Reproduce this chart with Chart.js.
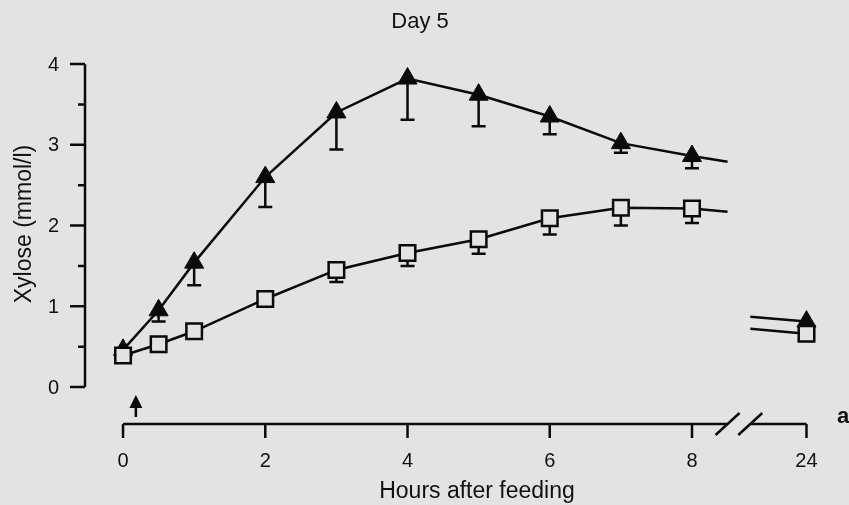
<!DOCTYPE html>
<html>
<head>
<meta charset="utf-8">
<script src="https://cdn.jsdelivr.net/npm/chart.js@4.4.1/dist/chart.umd.min.js"></script>
<style>
  html, body { margin: 0; padding: 0; background: #e3e3e3; }
  #wrap { width: 849px; height: 505px; }
</style>
</head>
<body>
<div id="wrap"><canvas id="xylose" width="849" height="505"></canvas></div>
<script>
// ── Data ──────────────────────────────────────────
const hours = [0, 0.5, 1, 2, 3, 4, 5, 6, 7, 8, 24];
const xyloseTri = [0.46, 0.95, 1.54, 2.60, 3.40, 3.82, 3.62, 3.35, 3.02, 2.86, 0.81];
const semTri = [0, 0.14, 0.28, 0.37, 0.46, 0.51, 0.39, 0.22, 0.12, 0.15, 0];
const xyloseSq = [0.39, 0.53, 0.69, 1.09, 1.45, 1.66, 1.83, 2.09, 2.22, 2.21, 0.66];
const semSq = [0, 0, 0, 0.02, 0.15, 0.16, 0.18, 0.20, 0.22, 0.18, 0];
// where the lines stop / resume around the axis break (axis units) and their values there
const breakEnds = [8.5, 8.82];
const stubTri = [2.79, 0.87];
const stubSq = [2.17, 0.72];
const xTickHours = [0, 2, 4, 6, 8, 24];
const yTicks = [0, 1, 2, 3, 4];
const feedingAt = 0.18;

const AXIS_24 = 9.61;          // 24 h sits just past the break
const FONT = "'Liberation Sans', Arial, sans-serif";
const BG = '#e3e3e3';
const INK = '#0a0a0a';

const axisPos = (h) => (h <= 9 ? h : AXIS_24);

function buildSeries(values, sem, stub) {
  const pts = [];
  hours.forEach((h, i) => {
    if (h === 24) {
      pts.push({ x: breakEnds[0], y: stub[0], stub: true });
      pts.push({ x: (breakEnds[0] + breakEnds[1]) / 2, y: null });
      pts.push({ x: breakEnds[1], y: stub[1], stub: true });
    }
    pts.push({ x: axisPos(h), y: values[i], sem: sem[i] });
  });
  return pts;
}

// ── Error bars (one-sided, downward) ──────────────
const errorBars = {
  id: 'errorBars',
  beforeDatasetsDraw(chart) {
    const { ctx, scales: { x, y } } = chart;
    ctx.save();
    ctx.strokeStyle = INK;
    ctx.lineWidth = 2.5;
    chart.data.datasets.forEach((ds) => {
      ds.data.forEach((p) => {
        if (!p.sem) return;
        const px = x.getPixelForValue(p.x);
        const top = y.getPixelForValue(p.y);
        const bot = y.getPixelForValue(p.y - p.sem);
        ctx.beginPath();
        ctx.moveTo(px, top);
        ctx.lineTo(px, bot);
        ctx.moveTo(px - 7, bot);
        ctx.lineTo(px + 7, bot);
        ctx.stroke();
      });
    });
    ctx.restore();
  },
};

// ── Detached axes, break marks, labels ────────────
const frame = {
  id: 'frame',
  afterDraw(chart) {
    const { ctx, chartArea, scales: { x, y } } = chart;
    ctx.save();
    ctx.strokeStyle = INK;
    ctx.fillStyle = '#111';
    ctx.lineWidth = 2.5;

    // y axis
    const ax = chartArea.left;
    ctx.beginPath();
    ctx.moveTo(ax, y.getPixelForValue(0));
    ctx.lineTo(ax, y.getPixelForValue(4));
    for (let v = 0; v <= 4; v += 0.5) {
      const py = y.getPixelForValue(v);
      ctx.moveTo(ax, py);
      ctx.lineTo(ax - (v % 1 === 0 ? 15 : 7), py);
    }
    ctx.stroke();
    ctx.font = `20px ${FONT}`;
    ctx.textAlign = 'right';
    ctx.textBaseline = 'middle';
    yTicks.forEach((v) => ctx.fillText(String(v), 59, y.getPixelForValue(v) + 1));

    // x axis with break
    const ay = chartArea.bottom + 37;
    const b0 = x.getPixelForValue(breakEnds[0]);
    const b1 = x.getPixelForValue(breakEnds[1]);
    ctx.beginPath();
    ctx.moveTo(x.getPixelForValue(0), ay);
    ctx.lineTo(b0, ay);
    ctx.moveTo(b1, ay);
    ctx.lineTo(x.getPixelForValue(AXIS_24), ay);
    xTickHours.forEach((h) => {
      const px = x.getPixelForValue(axisPos(h));
      ctx.moveTo(px, ay);
      ctx.lineTo(px, ay + 14);
    });
    [b0, b1].forEach((bx) => {
      ctx.moveTo(bx - 12, ay + 11);
      ctx.lineTo(bx + 12, ay - 11);
    });
    ctx.stroke();
    ctx.textAlign = 'center';
    xTickHours.forEach((h) => ctx.fillText(String(h), x.getPixelForValue(axisPos(h)), ay + 37));

    // feeding arrow
    const fx = x.getPixelForValue(feedingAt);
    ctx.beginPath();
    ctx.moveTo(fx, ay - 7);
    ctx.lineTo(fx, ay - 18);
    ctx.stroke();
    ctx.fillStyle = INK;
    ctx.beginPath();
    ctx.moveTo(fx, ay - 29);
    ctx.lineTo(fx - 6.5, ay - 16);
    ctx.lineTo(fx + 6.5, ay - 16);
    ctx.closePath();
    ctx.fill();

    // titles
    ctx.fillStyle = '#111';
    ctx.font = `22px ${FONT}`;
    ctx.fillText('Day 5', 420, 22);
    ctx.font = `23px ${FONT}`;
    ctx.fillText('Hours after feeding', 477, 492);
    ctx.save();
    ctx.translate(25, 224);
    ctx.rotate(-Math.PI / 2);
    ctx.fillText('Xylose (mmol/l)', 0, 0);
    ctx.restore();
    ctx.font = `bold 22px ${FONT}`;
    ctx.textAlign = 'left';
    ctx.textBaseline = 'alphabetic';
    ctx.fillText('a', 837, 423);
    ctx.restore();
  },
};

const markerRadius = (r) => (ctx) => (ctx.raw && ctx.raw.stub ? 0 : r);

new Chart(document.getElementById('xylose').getContext('2d'), {
  type: 'line',
  data: {
    datasets: [
      {
        label: 'open squares',
        data: buildSeries(xyloseSq, semSq, stubSq),
        borderColor: INK,
        borderWidth: 2.5,
        pointStyle: 'rect',
        pointRadius: markerRadius(11),
        pointBackgroundColor: BG,
        pointBorderColor: INK,
        pointBorderWidth: 2.5,
        tension: 0,
        spanGaps: false,
        clip: false,
      },
      {
        label: 'filled triangles',
        data: buildSeries(xyloseTri, semTri, stubTri),
        borderColor: INK,
        borderWidth: 2.5,
        pointStyle: 'triangle',
        pointRadius: markerRadius(11),
        pointBackgroundColor: INK,
        pointBorderColor: INK,
        pointBorderWidth: 1,
        tension: 0,
        spanGaps: false,
        clip: false,
      },
    ],
  },
  options: {
    responsive: false,
    animation: false,
    events: [],
    layout: { padding: { left: 85, right: 29, top: 64, bottom: 118 } },
    plugins: { legend: { display: false }, tooltip: { enabled: false } },
    scales: {
      x: { type: 'linear', min: -0.535, max: 9.8, display: false },
      y: { type: 'linear', min: 0, max: 4, display: false },
    },
  },
  plugins: [errorBars, frame],
});
</script>
</body>
</html>
